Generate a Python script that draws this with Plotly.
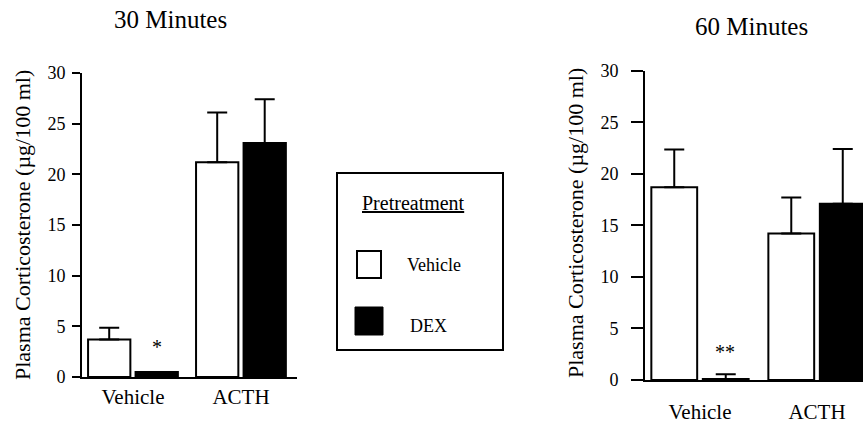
import plotly.graph_objects as go

# ---- data ----
categories = ["Vehicle", "ACTH"]
treatment_names = ["Vehicle", "DEX"]

min30_vehicle = [3.7, 21.2]
min30_vehicle_sem = [1.15, 4.9]
min30_dex = [0.5, 23.1]
min30_dex_sem = [0.0, 4.3]

min60_vehicle = [18.7, 14.2]
min60_vehicle_sem = [3.65, 3.5]
min60_dex = [0.1, 17.1]
min60_dex_sem = [0.45, 5.3]

y_ticks = [0, 5, 10, 15, 20, 25, 30]
panel_titles = ["30 Minutes", "60 Minutes"]
y_title = "Plasma Corticosterone (µg/100 ml)"
sig_30 = "*"
sig_60 = "**"

FONT = "Liberation Serif, Times New Roman, serif"
W, H = 863, 424


def px(x):
    return x / W


def py(y):
    return 1 - y / H


def bar(xaxis, yaxis, y, err, color):
    return go.Bar(
        x=categories, y=y, xaxis=xaxis, yaxis=yaxis,
        marker=dict(color=color, line=dict(color="black", width=2)),
        error_y=dict(type="data", array=err, arrayminus=[0] * len(err),
                     symmetric=False, color="black", thickness=2, width=10),
        showlegend=False,
    )


fig = go.Figure()
fig.add_trace(bar("x", "y", min30_vehicle, min30_vehicle_sem, "white"))
fig.add_trace(bar("x", "y", min30_dex, min30_dex_sem, "black"))
fig.add_trace(bar("x2", "y2", min60_vehicle, min60_vehicle_sem, "white"))
fig.add_trace(bar("x2", "y2", min60_dex, min60_dex_sem, "black"))

line_common = dict(showline=True, linecolor="black", linewidth=2, showgrid=False,
                   zeroline=False, automargin=False)
ytick_font = dict(family=FONT, size=18, color="black")
xtick_font = dict(family=FONT, size=21, color="black")

fig.update_layout(
    width=W, height=H,
    margin=dict(l=0, r=0, t=0, b=0, autoexpand=False),
    paper_bgcolor="white", plot_bgcolor="white",
    barmode="group", bargap=0.12, bargroupgap=0.11,
    font=dict(family=FONT, color="black"),
    xaxis=dict(domain=[px(82), px(297)], range=[-0.472, 1.519], anchor="y",
               ticks="", ticklabelstandoff=0, tickfont=xtick_font, **line_common),
    yaxis=dict(domain=[py(377), py(73)], range=[0, 30], anchor="x",
               tickvals=y_ticks, ticks="outside", ticklen=8, tickwidth=2, tickcolor="black",
               ticklabelstandoff=3, tickfont=ytick_font, **line_common),
    xaxis2=dict(domain=[px(645), 1.0], range=[-0.470, 1.393], anchor="y2",
                ticks="", ticklabelstandoff=12, tickfont=xtick_font, **line_common),
    yaxis2=dict(domain=[py(380), py(70.7)], range=[0, 30], anchor="x2",
                tickvals=y_ticks, ticks="outside", ticklen=12, tickwidth=2, tickcolor="black",
                ticklabelstandoff=9, tickfont=ytick_font, **line_common),
)


def paper_text(text, x, y, size, xanchor="center", angle=0):
    return dict(text=text, x=px(x), y=py(y), xref="paper", yref="paper",
                xanchor=xanchor, yanchor="middle", textangle=angle,
                showarrow=False, font=dict(family=FONT, size=size, color="black"))


ann = [
    paper_text(panel_titles[0], 170, 20, 25),
    paper_text(panel_titles[1], 751, 27, 25),
    paper_text(y_title, 22, 225, 22, angle=-90),
    paper_text(y_title, 575, 223, 22, angle=-90),
    paper_text("<u>Pretreatment</u>", 413, 203, 20),
    paper_text(treatment_names[0], 405, 265, 18, xanchor="left"),
    paper_text(treatment_names[1], 408, 326, 18, xanchor="left"),
    dict(text=sig_30, x=categories[0], y=3.0, xref="x", yref="y", xshift=24,
         xanchor="center", yanchor="middle",
         showarrow=False, font=dict(family=FONT, size=20, color="black")),
    dict(text=sig_60, x=categories[0], y=2.7, xref="x2", yref="y2", xshift=25,
         xanchor="center", yanchor="middle",
         showarrow=False, font=dict(family=FONT, size=20, color="black")),
]
fig.update_layout(annotations=ann)

shapes = [
    dict(type="rect", xref="paper", yref="paper", x0=px(337), x1=px(503), y0=py(350), y1=py(173),
         line=dict(color="black", width=2), fillcolor="rgba(0,0,0,0)"),
    dict(type="rect", xref="paper", yref="paper", x0=px(357), x1=px(381), y0=py(278), y1=py(251),
         line=dict(color="black", width=2), fillcolor="white"),
    dict(type="rect", xref="paper", yref="paper", x0=px(355), x1=px(383), y0=py(335), y1=py(307),
         line=dict(color="black", width=1), fillcolor="black"),
]
fig.update_layout(shapes=shapes)

fig.write_html("out.html")
